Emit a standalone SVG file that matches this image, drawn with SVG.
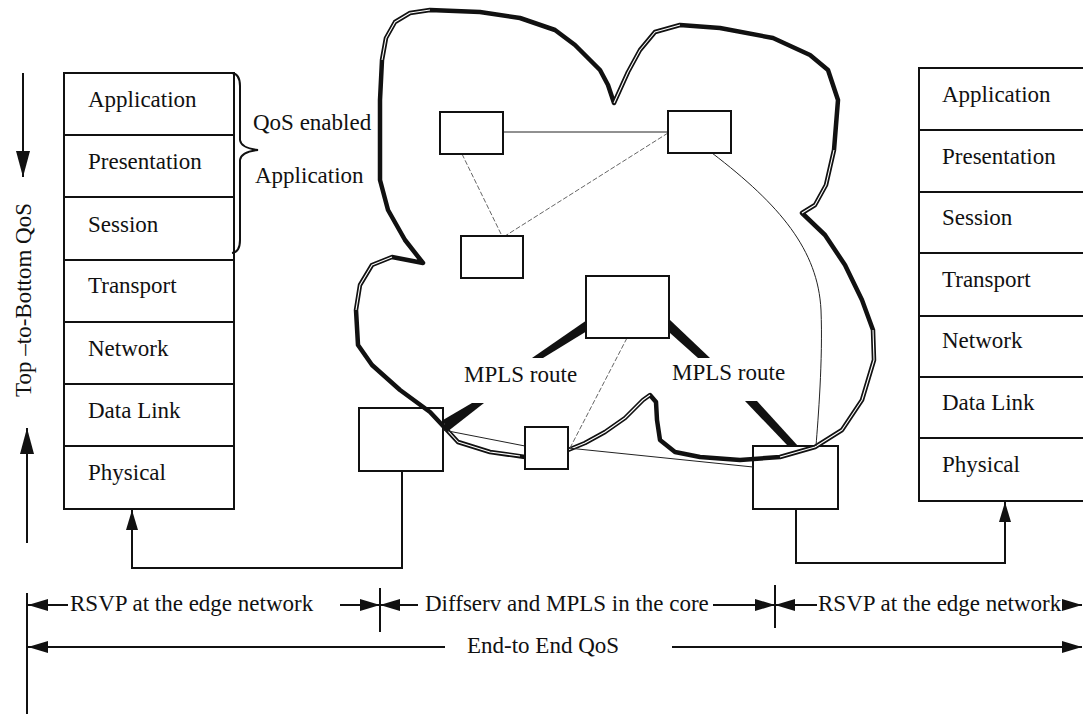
<svg xmlns="http://www.w3.org/2000/svg" width="1083" height="714" viewBox="0 0 1083 714">
<style>
text{font-family:"Liberation Serif","Times New Roman",serif;font-size:23px;fill:#111}
.box{fill:#fff;stroke:#111;stroke-width:2}
.ln{fill:none;stroke:#111;stroke-width:2}
.thin{fill:none;stroke:#222;stroke-width:1}
.dash{fill:none;stroke:#666;stroke-width:1;stroke-dasharray:5 2}
.cloud{fill:none;stroke:#111;stroke-width:4.5;stroke-linejoin:round;stroke-linecap:round}
.dbl{fill:none;stroke:#fff;stroke-width:1.1;stroke-linejoin:round}
.bar{fill:#111}
</style>
<defs>
<marker id="ah" viewBox="0 0 20 12" refX="20" refY="6" markerWidth="20" markerHeight="12" markerUnits="userSpaceOnUse" orient="auto"><path d="M0,0 L20,6 L0,12 z" fill="#111"/></marker>
<marker id="ahL" viewBox="0 0 26 14" refX="26" refY="7" markerWidth="26" markerHeight="14" markerUnits="userSpaceOnUse" orient="auto"><path d="M0,0 L26,7 L0,14 z" fill="#111"/></marker>
</defs>
<rect width="1083" height="714" fill="#fff"/>

<g id="left-stack">
<rect class="box" x="64" y="73" width="170" height="436"/>
<path class="ln" d="M64,135H234M64,197H234M64,260H234M64,322H234M64,384H234M64,446H234"/>
<text x="88" y="107">Application</text>
<text x="88" y="169">Presentation</text>
<text x="88" y="232">Session</text>
<text x="88" y="293">Transport</text>
<text x="88" y="356">Network</text>
<text x="88" y="418">Data Link</text>
<text x="88" y="480">Physical</text>
</g>

<g id="brace">
<path class="ln" stroke-width="1.8" d="M232,73 Q240,74 240,86 L240,140 Q241,148 258,150 Q241,152 240,160 L240,240 Q240,252 232,253"/>
<text x="253" y="130">QoS enabled</text>
<text x="255" y="183">Application</text>
</g>

<g id="right-stack">
<rect class="box" x="919" y="68" width="180" height="433"/>
<path class="ln" d="M919,130H1083M919,192H1083M919,253H1083M919,316H1083M919,377H1083M919,438H1083"/>
<text x="942" y="102">Application</text>
<text x="942" y="164">Presentation</text>
<text x="942" y="225">Session</text>
<text x="942" y="287">Transport</text>
<text x="942" y="348">Network</text>
<text x="942" y="410">Data Link</text>
<text x="942" y="472">Physical</text>
</g>

<g id="qos-axis">
<line class="ln" x1="23" y1="73" x2="23" y2="177" marker-end="url(#ahL)"/>
<line class="ln" x1="27" y1="543" x2="27" y2="428" marker-end="url(#ahL)"/>
<text transform="translate(31,300) rotate(-90)" text-anchor="middle">Top –to-Bottom QoS</text>
</g>

<g id="edge-router-left"><rect class="box" x="359" y="408" width="84" height="63"/></g>
<g id="edge-router-right"><rect class="box" x="753" y="446" width="85" height="63"/></g>

<g id="cloud">
<path class="cloud" d="M423,263 L392,257 L372,265 L360,285 L356,310 L358,345 L372,365 L400,390 L430,412 L445,428 L458,442 L490,452 L525,457 L568,450 L585,443 L605,432 L625,418 L643,400 L650,395 L656,402 L657,420 L660,440 L675,452 L700,457 L740,460 L780,457 L815,447 L842,430 L862,400 L874,360 L873,330 L862,300 L845,265 L825,235 L802,213 L815,205 L826,185 L834,150 L838,100 L828,70 L810,55 L773,38 L720,28 L680,25 L655,32 L640,50 L628,72 L614,103 L608,85 L600,70 L590,60 L575,45 L555,30 L520,18 L480,12 L430,10 L410,13 L395,22 L386,38 L382,60 L380,100 L380,180 L388,210 L405,240 Z"/>
<path class="dbl" d="M382,60 L386,38 L395,22 L410,13 L430,10"/>
<path class="dbl" d="M614,103 L628,72 L640,50 L655,32 L680,25"/>
<path class="dbl" d="M802,213 L815,205 L826,185 L834,150"/>
<path class="dbl" d="M392,257 L372,265 L360,285 L356,310"/>
<path class="dbl" d="M447,430 L458,442 L490,452 L520,456"/>
<path class="dbl" d="M568,450 L585,443 L605,432 L625,418 L643,400 L650,395"/>
<path class="dbl" d="M780,457 L815,447 L842,430 L862,400 L874,360 L873,330"/>
</g>

<g id="connectors">
<line class="thin" x1="503" y1="132" x2="668" y2="132"/>
<line class="dash" x1="668" y1="133" x2="505" y2="236"/>
<line class="dash" x1="462" y1="154" x2="502" y2="236"/>
<path class="thin" d="M712,153 C780,205 818,250 821,310 C823,360 818,420 816,446"/>
<line class="dash" x1="627" y1="338" x2="570" y2="448"/>
<line class="thin" x1="443" y1="430" x2="525" y2="446"/>
<line class="thin" x1="568" y1="448" x2="753" y2="467"/>
<polygon class="bar" points="587,320 587,331 543,358 532,358"/>
<polygon class="bar" points="670,320 670,333 698,358 710,358"/>
<polygon class="bar" points="443,420 447,432 484,403 472,403"/>
<polygon class="bar" points="745,401 757,401 798,446 788,446"/>
<path class="ln" d="M402,471 L402,568 L132,568 L132,510" marker-end="url(#ah)"/>
<path class="ln" d="M796,509 L796,563 L1005,563 L1005,502" marker-end="url(#ah)"/>
</g>

<g id="core-router-a"><rect class="box" x="440" y="112" width="63" height="42"/></g>
<g id="core-router-b"><rect class="box" x="668" y="111" width="63" height="42"/></g>
<g id="core-router-c"><rect class="box" x="461" y="236" width="62" height="42"/></g>
<g id="core-router-d"><rect class="box" x="586" y="276" width="83" height="62"/></g>
<g id="core-router-e"><rect class="box" x="525" y="427" width="43" height="42"/></g>

<g id="mpls-labels">
<text x="464" y="382">MPLS route</text>
<text x="672" y="380">MPLS route</text>
</g>

<g id="scope-arrows">
<line class="ln" x1="27" y1="593" x2="27" y2="714"/>
<line class="ln" x1="380" y1="588" x2="380" y2="632"/>
<line class="ln" x1="775" y1="585" x2="775" y2="628"/>
<line class="ln" x1="68" y1="605" x2="28" y2="605" marker-end="url(#ah)"/>
<line class="ln" x1="340" y1="605" x2="380" y2="605" marker-end="url(#ah)"/>
<line class="ln" x1="418" y1="605" x2="380" y2="605" marker-end="url(#ah)"/>
<line class="ln" x1="713" y1="605" x2="775" y2="605" marker-end="url(#ah)"/>
<line class="ln" x1="817" y1="605" x2="775" y2="605" marker-end="url(#ah)"/>
<line class="ln" x1="1064" y1="605" x2="1082" y2="605" marker-end="url(#ah)"/>
<line class="ln" x1="445" y1="647" x2="28" y2="647" marker-end="url(#ah)"/>
<line class="ln" x1="672" y1="647" x2="1082" y2="647" marker-end="url(#ah)"/>
<text x="70" y="611">RSVP at the edge network</text>
<text x="425" y="611">Diffserv and MPLS in the core</text>
<text x="818" y="611">RSVP at the edge network</text>
<text x="467" y="653">End-to End QoS</text>
</g>
</svg>
